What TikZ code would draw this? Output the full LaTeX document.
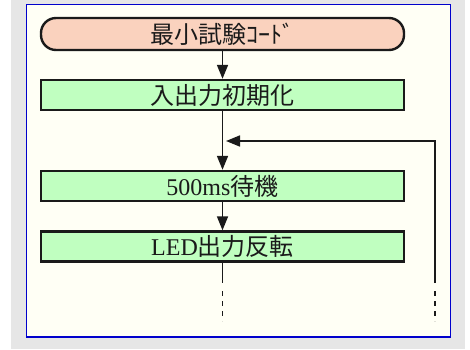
\documentclass[tikz,border=0pt]{standalone}
\usepackage{fontspec}
\setmainfont{Liberation Serif}
\newfontfamily\cjk{Noto Sans CJK JP}
\usetikzlibrary{arrows.meta}
\definecolor{bggray}{HTML}{E6E6E6}
\definecolor{panel}{HTML}{FFFFF5}
\definecolor{panelblue}{HTML}{0000CC}
\definecolor{salmon}{HTML}{FAD2BE}
\definecolor{lgreen}{HTML}{C0FFC0}
\definecolor{ink}{HTML}{1A1A1A}
\tikzset{
  procbox/.style={draw=ink, line width=2.4pt, fill=lgreen, minimum width=363pt, minimum height=30pt, inner sep=0pt, font=\fontsize{24}{24}\selectfont, text=ink},
  termbox/.style={procbox, fill=salmon, rounded corners=15pt, minimum height=32pt},
  flow/.style={draw=ink, line width=1.7pt, -{Triangle[length=14pt,width=11pt]}},
  plain/.style={draw=ink, line width=1.7pt},
  dots/.style={draw=ink, line width=1.7pt, dash pattern=on 5pt off 5pt}
}
\begin{document}
\begin{tikzpicture}[x=1pt,y=-1pt]
\useasboundingbox (0,0) rectangle (470,349);
\fill[white] (0,0) rectangle (470,349);
\fill[bggray] (11,0) rectangle (465,349);
\draw[panelblue, fill=panel, line width=1.5pt] (26.5,4.5) rectangle (450.5,337);
\node[termbox] (t) at (222.5,34) {{\cjk 最小試験ｺｰﾄﾞ}};
\node[procbox] (b1) at (222.5,95) {{\cjk 入出力初期化}};
\node[procbox] (b2) at (222.5,186) {500ms{\cjk 待機}};
\node[procbox] (b3) at (222.5,246.5) {LED{\cjk 出力反転}};
\coordinate (m1) at (222.5,283);
\coordinate (m2) at (222.5,291);
\coordinate (m3) at (222.5,321);
\coordinate (r1) at (435,283);
\coordinate (r2) at (435,291);
\coordinate (r3) at (435,321);
\coordinate (rt) at (435,141);
\coordinate (jn) at (226,141);
\draw[flow] (t) -- (b1);
\draw[flow] (b1) -- (b2);
\draw[flow] (b2) -- (b3);
\draw[plain] (b3) -- (m1);
\draw[dots] (m2) -- (m3);
\draw[flow] (r1) -- (rt) -- (jn);
\draw[dots] (r2) -- (r3);
\end{tikzpicture}
\end{document}
